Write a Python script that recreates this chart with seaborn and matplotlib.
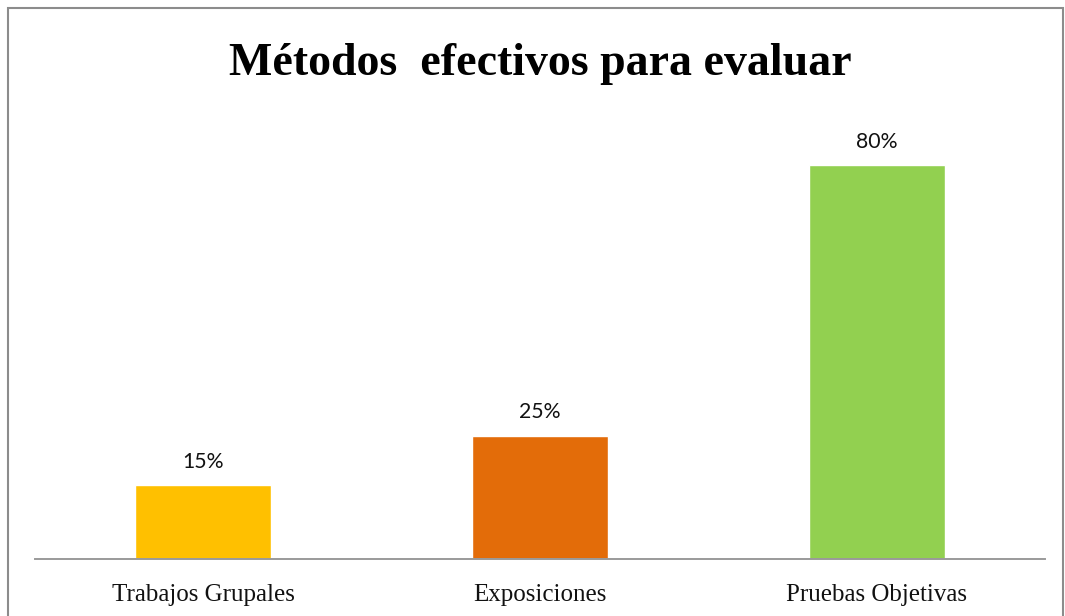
import pandas as pd
import seaborn as sns
import matplotlib.pyplot as plt
from matplotlib.patches import Rectangle

categorias = ['Trabajos Grupales', 'Exposiciones', 'Pruebas Objetivas']
valores = [0.15, 0.25, 0.80]
colores = ['#FFC000', '#E36C09', '#92D050']

df = pd.DataFrame({'metodo': categorias, 'valor': valores})

sns.set_theme(style='white')
fig = plt.figure(figsize=(10.65, 6.16), dpi=100)
ax = fig.add_axes([35 / 1065, 1 - 558.5 / 616, 1010 / 1065, (558.5 - 116) / 616])

sns.barplot(data=df, x='metodo', y='valor', hue='metodo', palette=colores,
            width=0.404, legend=False, ax=ax, saturation=1)
ax.set_ylim(0, 0.9)
ax.set_xlim(-0.5, 2.5)

for cont in ax.containers:
    ax.bar_label(cont, labels=[f'{v:.0%}' for v in cont.datavalues], padding=9.5,
                 fontsize=15.3, family='Lato', color='#111111')

ax.set_xlabel('')
ax.set_ylabel('')
ax.set_yticks([])
ax.tick_params(axis='x', length=0, pad=18)
for lab in ax.get_xticklabels():
    lab.set_family('Liberation Serif')
    lab.set_fontsize(18)
    lab.set_color('#111111')
for s in ['top', 'right', 'left']:
    ax.spines[s].set_visible(False)
ax.spines['bottom'].set_color('#9a9a9a')
ax.spines['bottom'].set_linewidth(1.4)

fig.text(540 / 1065, 1 - 75 / 616, 'Métodos  efectivos para evaluar', ha='center', va='baseline',
         fontsize=33, fontweight='bold', family='Liberation Serif', color='black')

fig.patches.append(Rectangle((7.5 / 1065, -0.05), (1062.5 - 7.5) / 1065, 1.05 - 8.5 / 616,
                             transform=fig.transFigure, fill=False, edgecolor='#8c8c8c',
                             linewidth=1.5, figure=fig))

plt.savefig('out.png', dpi=100)
